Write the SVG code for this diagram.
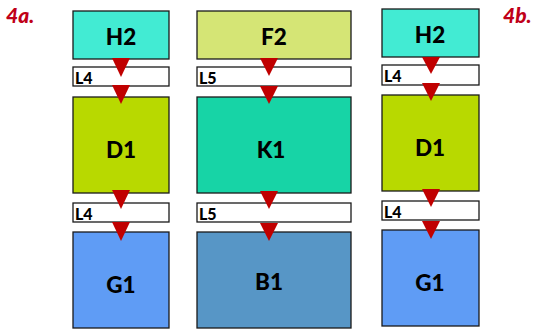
<svg xmlns="http://www.w3.org/2000/svg" width="538" height="329" viewBox="0 0 538 329">
<style>
.box{stroke:#1a1a1a;stroke-width:1.3}
.big{font-family:Lato,"Liberation Sans",Arial,sans-serif;font-weight:900;font-size:22.5px;fill:#000;text-anchor:middle}
.lbl{font-family:Lato,"Liberation Sans",Arial,sans-serif;font-weight:900;font-size:16px;fill:#000}
.ttl{font-family:Lato,"Liberation Sans",Arial,sans-serif;font-weight:900;font-style:italic;font-size:21px;fill:#C00018}
.arr{fill:#C00000}
</style>
<rect width="538" height="329" fill="#fff"/>
<text class="ttl" x="6" y="23">4a.</text>
<text class="ttl" x="503" y="23">4b.</text>

<g id="col1-H2"><rect class="box" x="73" y="11" width="96" height="48" fill="#42EBD3"/><text class="big" x="121" y="45">H2</text></g>
<g id="col1-L4a"><rect class="box" x="73" y="67" width="96" height="19" fill="#fff"/><text class="lbl" x="75" y="84">L4</text></g>
<g id="col1-D1"><rect class="box" x="73" y="97" width="96" height="96" fill="#B8D900"/><text class="big" x="121" y="158">D1</text></g>
<g id="col1-L4b"><rect class="box" x="73" y="203" width="96" height="19" fill="#fff"/><text class="lbl" x="75" y="220">L4</text></g>
<g id="col1-G1"><rect class="box" x="73" y="232" width="96" height="96" fill="#5F9CF5"/><text class="big" x="121" y="293">G1</text></g>

<g id="col2-F2"><rect class="box" x="197" y="11" width="154" height="48" fill="#D5E575"/><text class="big" x="274" y="45">F2</text></g>
<g id="col2-L5a"><rect class="box" x="197" y="67" width="154" height="19" fill="#fff"/><text class="lbl" x="199" y="84">L5</text></g>
<g id="col2-K1"><rect class="box" x="197" y="97" width="154" height="96" fill="#17D4A6"/><text class="big" x="271" y="158">K1</text></g>
<g id="col2-L5b"><rect class="box" x="197" y="203" width="154" height="19" fill="#fff"/><text class="lbl" x="199" y="220">L5</text></g>
<g id="col2-B1"><rect class="box" x="197" y="232" width="154" height="96" fill="#5796C6"/><text class="big" x="269" y="290">B1</text></g>

<g id="col3-H2"><rect class="box" x="382" y="9" width="97" height="48" fill="#42EBD3"/><text class="big" x="430" y="43">H2</text></g>
<g id="col3-L4a"><rect class="box" x="382" y="65" width="97" height="20" fill="#fff"/><text class="lbl" x="384" y="82">L4</text></g>
<g id="col3-D1"><rect class="box" x="382" y="95" width="97" height="96" fill="#B8D900"/><text class="big" x="430" y="156">D1</text></g>
<g id="col3-L4b"><rect class="box" x="382" y="201" width="97" height="19" fill="#fff"/><text class="lbl" x="384" y="218">L4</text></g>
<g id="col3-G1"><rect class="box" x="382" y="230" width="97" height="96" fill="#5F9CF5"/><text class="big" x="430" y="291">G1</text></g>

<g id="connectors">
<polygon class="arr" points="112,58 130,58 121,77"/>
<polygon class="arr" points="112,85 130,85 121,104"/>
<polygon class="arr" points="112,190 130,190 121,209"/>
<polygon class="arr" points="112,222 130,222 121,241"/>
<polygon class="arr" points="260,58 278,58 269,76"/>
<polygon class="arr" points="260,86 278,86 269,104"/>
<polygon class="arr" points="260,191 278,191 269,209"/>
<polygon class="arr" points="260,223 278,223 269,241"/>
<polygon class="arr" points="422,57 440,57 431,74"/>
<polygon class="arr" points="422,83 440,83 431,101"/>
<polygon class="arr" points="422,189 440,189 431,207"/>
<polygon class="arr" points="422,221 440,221 431,239"/>
</g>
</svg>
